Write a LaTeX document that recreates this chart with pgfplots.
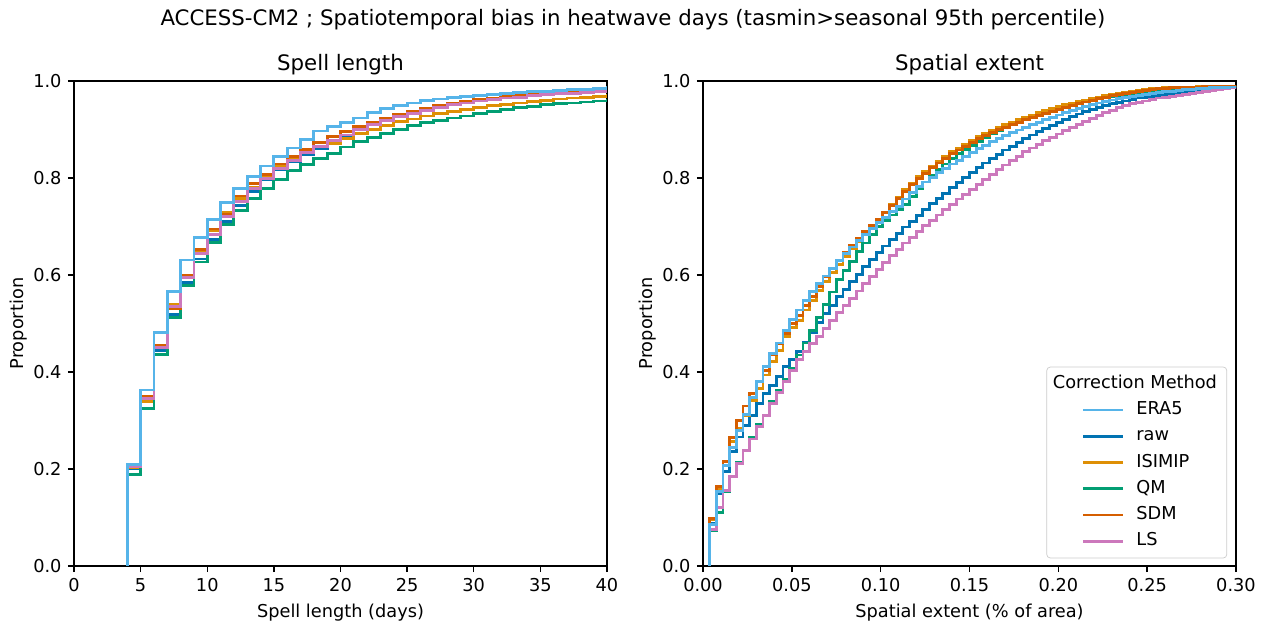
\documentclass[border=0pt]{standalone}
\usepackage{fontspec}
\setmainfont{DejaVu Sans}
\usepackage{pgfplots}
\usepackage{pgfplotstable}
\pgfplotsset{compat=1.18}
\definecolor{cera}{HTML}{56B4E9}
\definecolor{craw}{HTML}{0173B2}
\definecolor{cisi}{HTML}{DE8F05}
\definecolor{cqm}{HTML}{029E73}
\definecolor{csdm}{HTML}{D55E00}
\definecolor{cls}{HTML}{CC78BC}

\pgfplotstableread{
x era raw isimip qm sdm ls
4 0 0 0 0 0 0
4 0.210 0.201 0.203 0.189 0.206 0.204
5 0.363 0.344 0.339 0.325 0.349 0.345
6 0.482 0.445 0.452 0.437 0.454 0.450
7 0.566 0.518 0.540 0.512 0.531 0.535
8 0.631 0.585 0.598 0.578 0.600 0.595
9 0.678 0.633 0.650 0.627 0.652 0.645
10 0.715 0.674 0.692 0.667 0.695 0.684
11 0.749 0.710 0.729 0.705 0.725 0.720
12 0.779 0.743 0.758 0.734 0.763 0.751
13 0.803 0.772 0.781 0.758 0.789 0.778
14 0.825 0.796 0.803 0.779 0.808 0.800
15 0.845 0.817 0.825 0.797 0.829 0.820
16 0.862 0.834 0.839 0.815 0.844 0.836
17 0.879 0.849 0.855 0.828 0.859 0.852
18 0.897 0.861 0.865 0.840 0.873 0.865
19 0.907 0.875 0.871 0.850 0.885 0.878
20 0.915 0.885 0.882 0.864 0.896 0.889
21 0.924 0.899 0.892 0.875 0.906 0.900
22 0.935 0.910 0.901 0.884 0.914 0.910
23 0.944 0.920 0.909 0.892 0.923 0.919
24 0.950 0.928 0.916 0.900 0.931 0.927
25 0.955 0.935 0.922 0.909 0.937 0.934
26 0.960 0.942 0.928 0.915 0.944 0.940
27 0.963 0.947 0.933 0.918 0.949 0.946
28 0.966 0.953 0.938 0.924 0.954 0.951
29 0.968 0.957 0.942 0.928 0.959 0.955
30 0.970 0.962 0.946 0.933 0.962 0.959
31 0.972 0.965 0.949 0.938 0.965 0.962
32 0.974 0.967 0.952 0.942 0.968 0.965
33 0.976 0.969 0.955 0.945 0.970 0.967
34 0.978 0.971 0.958 0.948 0.972 0.970
35 0.979 0.973 0.960 0.951 0.974 0.972
36 0.981 0.975 0.963 0.953 0.976 0.974
37 0.982 0.977 0.965 0.955 0.978 0.975
38 0.983 0.978 0.967 0.957 0.980 0.977
39 0.985 0.980 0.969 0.959 0.981 0.978
40 0.986 0.981 0.971 0.961 0.983 0.979
41 0.986 0.981 0.971 0.961 0.983 0.979
}\spell

\pgfplotstableread{
x era raw isimip qm sdm ls
0.00375 0 0 0 0 0 0
0.00375 0.085 0.087 0.095 0.074 0.098 0.075
0.0075 0.153 0.150 0.160 0.110 0.164 0.120
0.01125 0.207 0.195 0.208 0.153 0.215 0.155
0.015 0.244 0.236 0.256 0.184 0.265 0.185
0.01875 0.279 0.266 0.284 0.213 0.300 0.212
0.0225 0.313 0.290 0.311 0.239 0.330 0.238
0.02625 0.347 0.311 0.342 0.266 0.356 0.262
0.03 0.381 0.335 0.366 0.291 0.380 0.287
0.03375 0.411 0.356 0.394 0.311 0.404 0.310
0.0375 0.438 0.373 0.421 0.339 0.435 0.335
0.04125 0.460 0.390 0.445 0.363 0.459 0.357
0.045 0.486 0.411 0.473 0.384 0.480 0.380
0.04875 0.508 0.425 0.492 0.407 0.500 0.403
0.0525 0.528 0.442 0.507 0.435 0.517 0.426
0.05625 0.548 0.462 0.528 0.460 0.538 0.442
0.06 0.566 0.482 0.548 0.486 0.556 0.458
0.06375 0.583 0.503 0.568 0.512 0.576 0.474
0.0675 0.598 0.521 0.587 0.540 0.596 0.490
0.07125 0.614 0.538 0.605 0.565 0.614 0.506
0.075 0.630 0.555 0.622 0.590 0.630 0.522
0.07875 0.644 0.571 0.638 0.610 0.646 0.537
0.0825 0.658 0.587 0.654 0.628 0.661 0.552
0.08625 0.671 0.602 0.669 0.648 0.676 0.567
0.09 0.684 0.617 0.684 0.666 0.690 0.582
0.09375 0.696 0.632 0.698 0.684 0.702 0.597
0.0975 0.708 0.646 0.712 0.700 0.715 0.612
0.10125 0.719 0.660 0.728 0.713 0.729 0.626
0.105 0.731 0.673 0.745 0.724 0.744 0.640
0.10875 0.742 0.686 0.760 0.735 0.758 0.653
0.1125 0.757 0.699 0.776 0.745 0.773 0.666
0.11625 0.770 0.711 0.790 0.762 0.786 0.678
0.12 0.782 0.723 0.803 0.778 0.799 0.690
0.12375 0.792 0.735 0.814 0.792 0.810 0.702
0.1275 0.802 0.747 0.825 0.805 0.821 0.713
0.13125 0.811 0.758 0.835 0.818 0.831 0.724
0.135 0.820 0.769 0.845 0.829 0.841 0.735
0.13875 0.829 0.780 0.854 0.840 0.850 0.746
0.1425 0.837 0.791 0.862 0.850 0.858 0.757
0.14625 0.845 0.801 0.870 0.859 0.866 0.767
0.15 0.853 0.811 0.878 0.868 0.874 0.777
0.15375 0.861 0.821 0.886 0.876 0.881 0.787
0.1575 0.868 0.831 0.893 0.884 0.888 0.797
0.16125 0.875 0.840 0.899 0.891 0.894 0.807
0.165 0.882 0.849 0.905 0.898 0.900 0.817
0.16875 0.888 0.858 0.910 0.904 0.905 0.827
0.1725 0.894 0.866 0.915 0.910 0.910 0.836
0.17625 0.899 0.874 0.920 0.915 0.915 0.845
0.18 0.904 0.882 0.925 0.920 0.920 0.854
0.18375 0.910 0.889 0.930 0.925 0.925 0.862
0.1875 0.915 0.896 0.935 0.930 0.929 0.870
0.19125 0.920 0.903 0.939 0.934 0.934 0.877
0.195 0.925 0.909 0.943 0.938 0.938 0.884
0.19875 0.930 0.915 0.947 0.942 0.942 0.891
0.2025 0.935 0.921 0.951 0.946 0.946 0.898
0.20625 0.940 0.927 0.954 0.950 0.950 0.905
0.21 0.944 0.932 0.958 0.953 0.954 0.911
0.21375 0.948 0.937 0.961 0.957 0.957 0.917
0.2175 0.952 0.941 0.964 0.960 0.960 0.923
0.22125 0.955 0.945 0.967 0.963 0.964 0.929
0.225 0.958 0.949 0.970 0.966 0.967 0.935
0.22875 0.961 0.953 0.973 0.969 0.970 0.940
0.2325 0.964 0.956 0.975 0.971 0.973 0.945
0.23625 0.967 0.959 0.977 0.973 0.975 0.949
0.24 0.969 0.962 0.979 0.975 0.977 0.953
0.24375 0.971 0.965 0.981 0.977 0.979 0.956
0.2475 0.973 0.967 0.982 0.979 0.981 0.959
0.25125 0.975 0.969 0.984 0.980 0.983 0.962
0.255 0.977 0.971 0.985 0.982 0.984 0.965
0.25875 0.978 0.973 0.986 0.983 0.985 0.967
0.2625 0.979 0.975 0.987 0.984 0.986 0.969
0.26625 0.981 0.977 0.987 0.985 0.987 0.971
0.27 0.982 0.978 0.988 0.986 0.987 0.973
0.27375 0.983 0.980 0.988 0.987 0.988 0.975
0.2775 0.984 0.981 0.989 0.987 0.988 0.977
0.28125 0.985 0.982 0.989 0.988 0.989 0.979
0.285 0.986 0.984 0.989 0.988 0.989 0.981
0.28875 0.987 0.985 0.990 0.989 0.989 0.983
0.2925 0.987 0.986 0.990 0.989 0.990 0.985
0.29625 0.988 0.987 0.990 0.989 0.990 0.986
0.3 0.988 0.988 0.990 0.990 0.990 0.987
0.30375 0.988 0.988 0.990 0.990 0.990 0.987
}\extent

\pgfplotsset{myax/.style={
  scale only axis, width=300.3pt, height=273.2pt,
  anchor=south west,
  axis line style={line width=0.8pt, black},
  every tick/.style={line width=0.8pt, black},
  major tick length=3.5pt,
  tick align=outside,
  xtick pos=bottom, ytick pos=left,
  ymin=0, ymax=1,
  ytick={0,0.2,0.4,0.6,0.8,1},
  yticklabel style={/pgf/number format/fixed, /pgf/number format/fixed zerofill, /pgf/number format/precision=1},
  /pgf/number format/assume math mode=true,
  tick label style={font=\fontsize{10}{12}\selectfont},
  label style={font=\fontsize{10}{12}\selectfont},
  title style={font=\fontsize{12}{14}\selectfont, yshift=-6pt},
  ylabel={Proportion},
  ylabel shift=-3.5pt,
  every axis plot/.append style={line width=1.6pt, const plot},
}}

\begin{document}
\begin{tikzpicture}
\useasboundingbox (0,0) rectangle (713.3pt,351.0pt);
\node[font=\fontsize{12}{14}\selectfont] at (356.6pt,340.0pt) {ACCESS-CM2 ; Spatiotemporal bias in heatwave days (tasmin>seasonal 95th percentile)};

\begin{axis}[myax, at={(41.7pt,32.1pt)},
  title={Spell length}, xlabel={Spell length (days)},
  xmin=0, xmax=40, xtick={0,5,10,15,20,25,30,35,40}]
\addplot[craw] table[x=x,y=raw]{\spell};
\addplot[cisi] table[x=x,y=isimip]{\spell};
\addplot[cqm] table[x=x,y=qm]{\spell};
\addplot[csdm] table[x=x,y=sdm]{\spell};
\addplot[cls] table[x=x,y=ls]{\spell};
\addplot[cera] table[x=x,y=era]{\spell};
\end{axis}

\begin{axis}[myax, at={(396.1pt,32.1pt)},
  title={Spatial extent}, xlabel={Spatial extent (\% of area)},
  xmin=0, xmax=0.3, xtick={0,0.05,0.1,0.15,0.2,0.25,0.3},
  xticklabel style={/pgf/number format/fixed, /pgf/number format/fixed zerofill, /pgf/number format/precision=2},
  scaled x ticks=false,
  legend style={at={(1,0)}, anchor=south east, xshift=-5pt, yshift=4.3pt,
    draw=black!20, rounded corners=2pt, fill=white, fill opacity=0.8, text opacity=1,
    font=\fontsize{10}{12}\selectfont, cells={anchor=west},
    nodes={text height=7.5pt, text depth=2.3pt, inner sep=2.5pt}, row sep=0pt},
  legend image code/.code={\path[draw=none] (-4.5pt,0pt) -- (40.5pt,0pt); \draw[#1] (13pt,0pt) -- (35.5pt,0pt);}]
\addlegendimage{empty legend}
\addlegendentry{\hspace{-47pt}Correction Method}
\addlegendimage{cera, line width=1.6pt}\addlegendentry{ERA5}
\addlegendimage{craw, line width=1.6pt}\addlegendentry{raw}
\addlegendimage{cisi, line width=1.6pt}\addlegendentry{ISIMIP}
\addlegendimage{cqm, line width=1.6pt}\addlegendentry{QM}
\addlegendimage{csdm, line width=1.6pt}\addlegendentry{SDM}
\addlegendimage{cls, line width=1.6pt}\addlegendentry{LS}
\addplot[craw, forget plot] table[x=x,y=raw]{\extent};
\addplot[cisi, forget plot] table[x=x,y=isimip]{\extent};
\addplot[cqm, forget plot] table[x=x,y=qm]{\extent};
\addplot[csdm, forget plot] table[x=x,y=sdm]{\extent};
\addplot[cls, forget plot] table[x=x,y=ls]{\extent};
\addplot[cera, forget plot] table[x=x,y=era]{\extent};
\end{axis}
\end{tikzpicture}
\end{document}
